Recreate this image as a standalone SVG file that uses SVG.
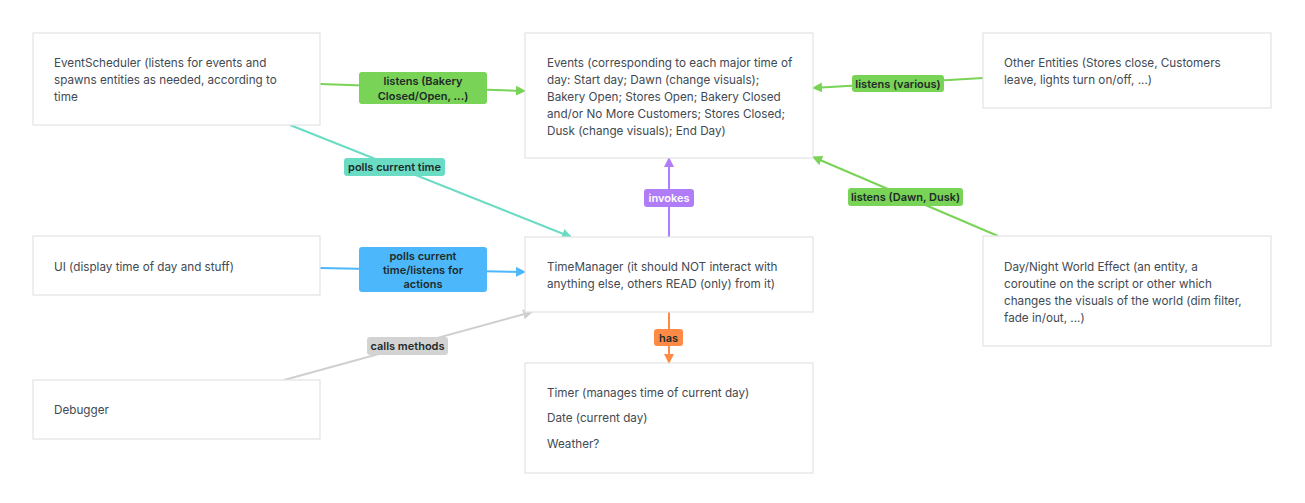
<svg xmlns="http://www.w3.org/2000/svg" width="1305" height="503" viewBox="0 0 1305 503">
<defs>
<style>
.box{fill:#fff;stroke:#e3e3e3;stroke-width:1.2}
.t{font-family:Inter,"Liberation Sans",sans-serif;font-size:11.7px;fill:#424a53}
.lb{font-family:Inter,"Liberation Sans",sans-serif;font-size:11px;font-weight:600;fill:#1f2a2a;text-anchor:middle}
.ln{fill:none;stroke-width:2}
</style>
<marker id="ag" viewBox="0 0 10 10" refX="9" refY="5" markerWidth="5" markerHeight="5" orient="auto"><path d="M0,0L10,5L0,10z" fill="#78d356"/></marker>
<marker id="at" viewBox="0 0 10 10" refX="9" refY="5" markerWidth="5" markerHeight="5" orient="auto"><path d="M0,0L10,5L0,10z" fill="#6adcc4"/></marker>
<marker id="ab" viewBox="0 0 10 10" refX="9" refY="5" markerWidth="5" markerHeight="5" orient="auto"><path d="M0,0L10,5L0,10z" fill="#4cb8fb"/></marker>
<marker id="ay" viewBox="0 0 10 10" refX="9" refY="5" markerWidth="5" markerHeight="5" orient="auto"><path d="M0,0L10,5L0,10z" fill="#cfcfcf"/></marker>
<marker id="ap" viewBox="0 0 10 10" refX="9" refY="5" markerWidth="5" markerHeight="5" orient="auto"><path d="M0,0L10,5L0,10z" fill="#b07cf7"/></marker>
<marker id="ao" viewBox="0 0 10 10" refX="9" refY="5" markerWidth="5" markerHeight="5" orient="auto"><path d="M0,0L10,5L0,10z" fill="#ff8a45"/></marker>
</defs>
<rect width="1305" height="503" fill="#fff"/>
<g id="connectors">
<line class="ln" x1="320" y1="84" x2="525" y2="91" stroke="#78d356" marker-end="url(#ag)"/>
<line class="ln" x1="290" y1="125" x2="571" y2="237" stroke="#6adcc4" marker-end="url(#at)"/>
<line class="ln" x1="983" y1="78" x2="813" y2="88" stroke="#78d356" marker-end="url(#ag)"/>
<line class="ln" x1="998" y1="236" x2="813" y2="157" stroke="#78d356" marker-end="url(#ag)"/>
<line class="ln" x1="320" y1="268" x2="525" y2="272" stroke="#4cb8fb" marker-end="url(#ab)"/>
<line class="ln" x1="284" y1="380" x2="532" y2="312" stroke="#cfcfcf" marker-end="url(#ay)"/>
<line class="ln" x1="669" y1="237" x2="669" y2="158" stroke="#b07cf7" marker-end="url(#ap)"/>
<line class="ln" x1="669" y1="312" x2="669" y2="363" stroke="#ff8a45" marker-end="url(#ao)"/>
<rect x="359" y="72" width="128" height="32" rx="3" fill="#78d356"/>
<text class="lb" x="423" y="85">listens (Bakery</text>
<text class="lb" x="423" y="100">Closed/Open, ...)</text>
<rect x="344" y="158" width="101" height="18" rx="3" fill="#6adcc4"/>
<text class="lb" x="394.5" y="171">polls current time</text>
<rect x="852" y="75" width="92" height="17" rx="3" fill="#78d356"/>
<text class="lb" x="898" y="87.5">listens (various)</text>
<rect x="848" y="188" width="115" height="18" rx="3" fill="#78d356"/>
<text class="lb" x="905.5" y="201">listens (Dawn, Dusk)</text>
<rect x="359" y="247" width="128" height="45" rx="3" fill="#4cb8fb"/>
<text class="lb" x="423" y="260">polls current</text>
<text class="lb" x="423" y="274">time/listens for</text>
<text class="lb" x="423" y="288">actions</text>
<rect x="367" y="337" width="81" height="18" rx="3" fill="#d3d3d3"/>
<text class="lb" x="407.5" y="350">calls methods</text>
<rect x="644" y="189" width="50" height="18" rx="3" fill="#b07cf7"/>
<text class="lb" x="669" y="202" style="fill:#fff">invokes</text>
<rect x="654" y="329" width="29" height="17" rx="3" fill="#ff8a45"/>
<text class="lb" x="668.5" y="341.5">has</text>
</g>
<g id="eventscheduler">
<rect class="box" x="33" y="33" width="287" height="92"/>
<text class="t" x="54" y="67">EventScheduler (listens for events and</text>
<text class="t" x="54" y="84">spawns entities as needed, according to</text>
<text class="t" x="54" y="101">time</text>
</g>
<g id="events">
<rect class="box" x="525" y="33" width="288" height="125"/>
<text class="t" x="547" y="67">Events (corresponding to each major time of</text>
<text class="t" x="547" y="84">day: Start day; Dawn (change visuals);</text>
<text class="t" x="547" y="101">Bakery Open; Stores Open; Bakery Closed</text>
<text class="t" x="547" y="118">and/or No More Customers; Stores Closed;</text>
<text class="t" x="547" y="135">Dusk (change visuals); End Day)</text>
</g>
<g id="otherentities">
<rect class="box" x="983" y="33" width="288" height="75"/>
<text class="t" x="1004" y="67">Other Entities (Stores close, Customers</text>
<text class="t" x="1004" y="84">leave, lights turn on/off, ...)</text>
</g>
<g id="ui">
<rect class="box" x="33" y="236" width="287" height="59"/>
<text class="t" x="54" y="271">UI (display time of day and stuff)</text>
</g>
<g id="timemanager">
<rect class="box" x="525" y="237" width="288" height="75"/>
<text class="t" x="547" y="271">TimeManager (it should NOT interact with</text>
<text class="t" x="547" y="288">anything else, others READ (only) from it)</text>
</g>
<g id="daynight">
<rect class="box" x="983" y="236" width="288" height="110"/>
<text class="t" x="1004" y="271">Day/Night World Effect (an entity, a</text>
<text class="t" x="1004" y="288">coroutine on the script or other which</text>
<text class="t" x="1004" y="305">changes the visuals of the world (dim filter,</text>
<text class="t" x="1004" y="322">fade in/out, ...)</text>
</g>
<g id="debugger">
<rect class="box" x="33" y="380" width="287" height="59"/>
<text class="t" x="54" y="414">Debugger</text>
</g>
<g id="timer">
<rect class="box" x="525" y="363" width="288" height="110"/>
<text class="t" x="547" y="397">Timer (manages time of current day)</text>
<text class="t" x="547" y="422">Date (current day)</text>
<text class="t" x="547" y="448">Weather?</text>
</g>
</svg>
